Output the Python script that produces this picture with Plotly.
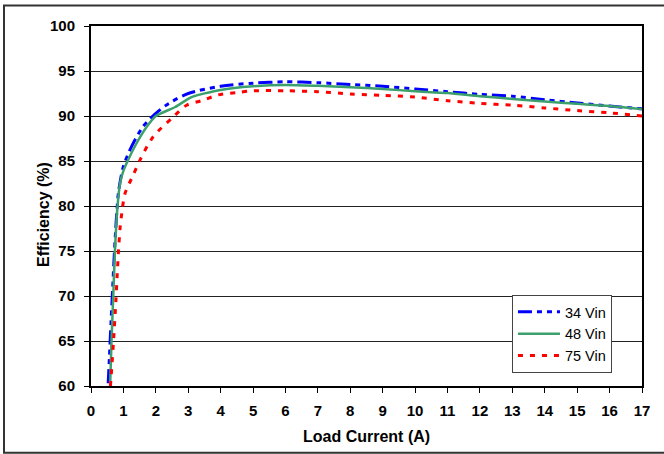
import plotly.graph_objects as go

# Data
x_34 = [0.53, 0.57, 0.62, 0.67, 0.71, 0.76, 0.80, 0.85, 1.0, 1.25, 1.6, 2.0, 2.4, 3.0, 4.0, 5.0, 6.0, 7.0, 8.0, 9.0, 10.0, 11.0, 12.0, 13.0, 14.0, 15.0, 16.0, 17.0]
y_34 = [60.3, 63.3, 67.3, 71.0, 74.0, 77.3, 79.5, 81.6, 84.4, 86.6, 88.8, 90.3, 91.4, 92.5, 93.3, 93.65, 93.8, 93.7, 93.5, 93.3, 93.0, 92.7, 92.4, 92.2, 91.8, 91.45, 91.1, 90.8]

x_48 = [0.59, 0.63, 0.69, 0.74, 0.81, 0.90, 1.0, 1.13, 1.41, 1.72, 2.0, 2.6, 3.1, 4.0, 5.0, 6.0, 7.0, 8.0, 9.0, 10.0, 11.0, 12.0, 13.0, 14.0, 15.0, 16.0, 17.0]
y_48 = [60.0, 64.7, 70.3, 75.1, 79.6, 82.6, 83.9, 85.0, 87.0, 88.8, 90.0, 91.0, 92.1, 92.9, 93.3, 93.45, 93.35, 93.2, 93.0, 92.75, 92.55, 92.2, 91.9, 91.6, 91.35, 91.1, 90.75]

x_75 = [0.60, 0.62, 0.69, 0.77, 0.81, 0.85, 0.90, 0.95, 1.05, 1.31, 1.51, 1.92, 2.54, 2.95, 3.41, 3.93, 4.5, 5.0, 6.0, 7.0, 8.0, 9.0, 10.0, 11.0, 12.0, 13.0, 14.0, 15.0, 16.0, 17.0]
y_75 = [60.0, 61.0, 64.7, 69.6, 72.5, 75.1, 77.7, 79.2, 81.4, 83.5, 85.1, 87.7, 89.9, 91.2, 91.7, 92.35, 92.6, 92.8, 92.8, 92.7, 92.45, 92.3, 92.1, 91.7, 91.4, 91.2, 90.9, 90.6, 90.35, 90.0]

series_names = ["34 Vin", "48 Vin", "75 Vin"]
x_ticks = list(range(0, 18))
y_ticks = list(range(60, 101, 5))

FONT = "Liberation Sans, Arial, sans-serif"

fig = go.Figure()
fig.add_trace(go.Scatter(x=x_34, y=y_34, mode="lines", name=series_names[0],
                         line=dict(color="#0000FF", width=3, dash="14px,5px,5px,5px,5px,5px",
                                   shape="spline", smoothing=0.8)))
fig.add_trace(go.Scatter(x=x_48, y=y_48, mode="lines", name=series_names[1],
                         line=dict(color="#3CA06C", width=2.5, shape="spline", smoothing=0.6)))
fig.add_trace(go.Scatter(x=x_75, y=y_75, mode="lines", name=series_names[2],
                         line=dict(color="#FF0000", width=3, dash="5px,7px",
                                   shape="spline", smoothing=0.8)))

fig.update_layout(
    width=664, height=454,
    margin=dict(l=91, r=22, t=26, b=68),
    paper_bgcolor="white", plot_bgcolor="white",
    font=dict(family=FONT, color="black"),
    showlegend=True,
    legend=dict(x=0.764, y=0.253, xanchor="left", yanchor="top",
                bordercolor="#444", borderwidth=1, bgcolor="white",
                font=dict(family=FONT, size=14.5, color="black"),
                itemwidth=42, tracegroupgap=0),
    xaxis=dict(range=[0, 17], tickmode="array", tickvals=x_ticks,
               ticks="outside", ticklen=5, tickcolor="black", tickwidth=1,
               showgrid=False, zeroline=False,
               showline=True, linecolor="black", linewidth=2, mirror=True,
               tickfont=dict(family=FONT, size=15, weight="bold"),
               ticklabelstandoff=5),
    yaxis=dict(range=[60, 100], tickmode="array", tickvals=y_ticks,
               ticks="outside", ticklen=5, tickcolor="black", tickwidth=1,
               showgrid=True, gridcolor="#222", gridwidth=1, zeroline=False,
               showline=True, linecolor="black", linewidth=2, mirror=True,
               tickfont=dict(family=FONT, size=15, weight="bold"),
               ticklabelstandoff=6),
    annotations=[
        dict(text="Load Current (A)", x=0.5, y=(386 - 436.5) / 360, xref="paper", yref="paper",
             xanchor="center", yanchor="middle", showarrow=False,
             font=dict(family=FONT, size=16, weight="bold", color="black")),
        dict(text="Efficiency (%)", x=(43 - 91) / 551, y=0.475, xref="paper", yref="paper",
             xanchor="center", yanchor="middle", showarrow=False, textangle=-90,
             font=dict(family=FONT, size=16, weight="bold", color="black")),
    ],
    shapes=[dict(type="rect", xref="paper", yref="paper",
                 x0=(4 - 91) / 551, x1=(668 - 91) / 551,
                 y0=(386 - 452.7) / 360, y1=(386 - 5.5) / 360,
                 line=dict(color="#333", width=2), fillcolor="rgba(0,0,0,0)", layer="below")],
)

fig.write_html("out.html", config={"displayModeBar": False},
               post_script="document.body.style.margin='0';document.body.style.overflow='hidden';")
